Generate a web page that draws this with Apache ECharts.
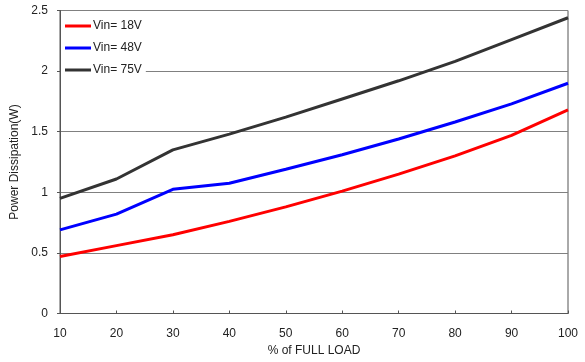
<!DOCTYPE html>
<html><head><meta charset="utf-8">
<script src="https://cdn.jsdelivr.net/npm/echarts@6/dist/echarts.min.js"></script>
<style>html,body{margin:0;padding:0;background:#fff}#c{width:585px;height:362px}</style>
</head><body><div id="c"></div>
<script>
const loads = [10, 20, 30, 40, 50, 60, 70, 80, 90, 100];
const vin18 = [0.47, 0.56, 0.65, 0.76, 0.88, 1.01, 1.15, 1.30, 1.47, 1.68];
const vin48 = [0.69, 0.82, 1.025, 1.075, 1.19, 1.31, 1.44, 1.58, 1.73, 1.90];
const vin75 = [0.95, 1.11, 1.35, 1.48, 1.62, 1.77, 1.92, 2.08, 2.26, 2.44];
const names = ['Vin= 18V', 'Vin= 48V', 'Vin= 75V'];
const colors = ['#ff0000', '#0000ff', '#333333'];
const font = 'Liberation Sans, Arial, sans-serif';
const chart = echarts.init(document.getElementById('c'), null, {renderer: 'canvas'});
function pairs(arr) { return loads.map((x, i) => [x, arr[i]]); }
const sets = [vin18, vin48, vin75];
chart.setOption({
  animation: false,
  backgroundColor: '#fff',
  textStyle: {fontFamily: font},
  grid: {left: 60, right: 17, top: 10.5, bottom: 48.5, show: true, borderColor: '#555', borderWidth: 1},
  legend: {
    orient: 'vertical', left: 61, top: 17, padding: [3, 4, 3, 4], itemGap: 10,
    backgroundColor: '#fff', itemWidth: 26, itemHeight: 3, icon: 'rect',
    textStyle: {fontFamily: font, fontSize: 12, color: '#222', padding: [0, 0, 0, -3]},
    data: names
  },
  xAxis: {
    type: 'value', min: 10, max: 100, interval: 10,
    name: '% of FULL LOAD', nameLocation: 'middle', nameGap: 31,
    nameTextStyle: {fontFamily: font, fontSize: 12, color: '#222'},
    axisLine: {show: true, lineStyle: {color: '#555'}},
    axisTick: {show: true, inside: true, length: 3, lineStyle: {color: '#555'}},
    axisLabel: {fontFamily: font, fontSize: 12, color: '#222', margin: 14},
    splitLine: {show: false}
  },
  yAxis: {
    type: 'value', min: 0, max: 2.5, interval: 0.5,
    name: 'Power Dissipation(W)', nameLocation: 'middle', nameGap: 38,
    nameTextStyle: {fontFamily: font, fontSize: 12, color: '#222'},
    axisLine: {show: true, lineStyle: {color: '#555'}},
    axisTick: {show: true, length: 3, lineStyle: {color: '#555'}},
    axisLabel: {fontFamily: font, fontSize: 12, color: '#222', margin: 12},
    splitLine: {show: true, lineStyle: {color: '#808080', width: 1}}
  },
  series: sets.map((s, i) => ({
    name: names[i], type: 'line', data: pairs(s), showSymbol: false, symbol: 'none',
    lineStyle: {color: colors[i], width: 3}, itemStyle: {color: colors[i]}, z: 3 + i
  }))
});
</script></body></html>
